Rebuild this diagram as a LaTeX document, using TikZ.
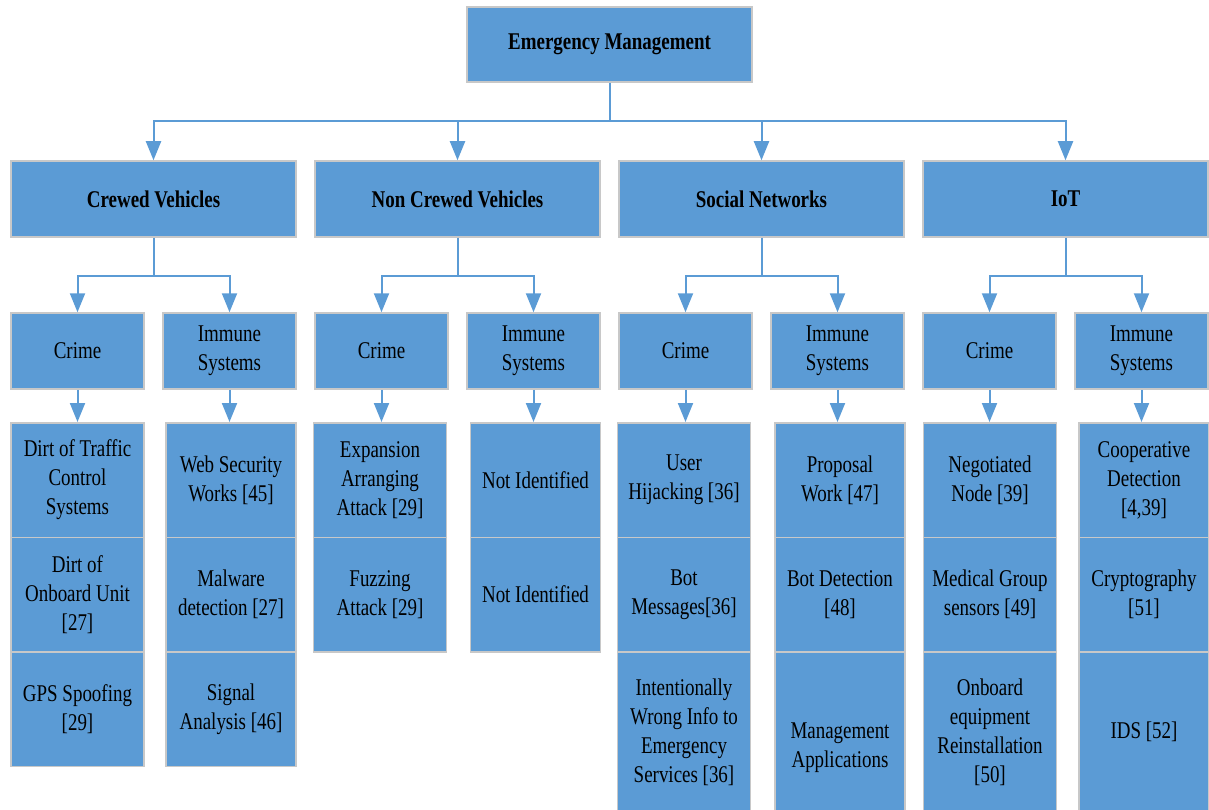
\documentclass[tikz,border=0pt]{standalone}
\usepackage{fontspec}
\setmainfont{Liberation Serif}[FakeStretch=0.79]
\usetikzlibrary{arrows.meta}
\definecolor{boxblue}{HTML}{5B9BD5}
\definecolor{lineblue}{HTML}{5B9BD5}
\definecolor{boxborder}{HTML}{C8C8C8}
\tikzset{
  box/.style={draw=boxborder, line width=1.5pt, fill=boxblue, align=center, inner sep=1pt, text=black},
  topbox/.style={box, minimum width=285pt, minimum height=75pt, font=\fontsize{24}{29}\selectfont\bfseries},
  catbox/.style={box, minimum width=285pt, minimum height=76pt, font=\fontsize{24}{29}\selectfont\bfseries},
  subbox/.style={box, minimum width=133pt, minimum height=76pt},
  crimebox/.style={box, minimum width=133pt, minimum height=114.5pt},
  immbox/.style={box, minimum width=130pt, minimum height=114.5pt},
  tallcrime/.style={box, minimum width=133pt, minimum height=160pt},
  tallimm/.style={box, minimum width=130pt, minimum height=160pt},
  conn/.style={draw=lineblue, line width=2pt},
  arr/.style={conn, -{Triangle[width=15pt,length=19pt]}},
  every node/.style={font=\fontsize{24}{29}\selectfont}
}
\begin{document}
\begin{tikzpicture}[x=1pt,y=-1pt]
\useasboundingbox (0,0) rectangle (1209,810);

% root
\node[topbox] (root) at (609.5,44.5) {Emergency Management};

% level 1
\node[catbox] (cv)  at (153.5,199)  {Crewed Vehicles};
\node[catbox] (ncv) at (457.5,199)  {Non Crewed Vehicles};
\node[catbox] (sn)  at (761.5,199)  {Social Networks};
\node[catbox] (iot) at (1065.5,199) {IoT};

% level 2
\node[subbox] (cvC)  at (77.5,351)   {Crime};
\node[subbox] (cvI)  at (229.5,351)  {Immune\\Systems};
\node[subbox] (ncvC) at (381.5,351)  {Crime};
\node[subbox] (ncvI) at (533.5,351)  {Immune\\Systems};
\node[subbox] (snC)  at (685.5,351)  {Crime};
\node[subbox] (snI)  at (837.5,351)  {Immune\\Systems};
\node[subbox] (iotC) at (989.5,351)  {Crime};
\node[subbox] (iotI) at (1141.5,351) {Immune\\Systems};

% level 3 - Crewed Vehicles
\node[crimebox] (cvC1) at (77.5,480)   {Dirt of Traffic\\Control\\Systems};
\node[crimebox] (cvC2) at (77.5,594.5) {Dirt of\\Onboard Unit\\{}[27]};
\node[crimebox] (cvC3) at (77.5,709)   {GPS Spoofing\\{}[29]};
\node[immbox] (cvI1) at (231,480)   {Web Security\\Works [45]};
\node[immbox] (cvI2) at (231,594.5) {Malware\\detection [27]};
\node[immbox] (cvI3) at (231,709)   {Signal\\Analysis [46]};

% level 3 - Non Crewed Vehicles
\node[crimebox] (ncvC1) at (380,480)   {Expansion\\Arranging\\Attack [29]};
\node[crimebox] (ncvC2) at (380,594.5) {Fuzzing\\Attack [29]};
\node[immbox] (ncvI1) at (535.5,480)   {Not Identified};
\node[immbox] (ncvI2) at (535.5,594.5) {Not Identified};

% level 3 - Social Networks
\node[crimebox] (snC1) at (684,480)   {User\\Hijacking [36]};
\node[crimebox] (snC2) at (684,594.5) {Bot\\Messages[36]};
\node[tallcrime] (snC3) at (684,732)  {Intentionally\\Wrong Info to\\Emergency\\Services [36]};
\node[immbox] (snI1) at (840,480)   {Proposal\\Work [47]};
\node[immbox] (snI2) at (840,594.5) {Bot Detection\\{}[48]};
\node[tallimm] (snI3) at (840,732)  {};
\node[align=center] (snI3t) at (840,748) {Management\\Applications};

% level 3 - IoT
\node[crimebox] (iotC1) at (990,480)   {Negotiated\\Node [39]};
\node[crimebox] (iotC2) at (990,594.5) {Medical Group\\sensors [49]};
\node[tallcrime] (iotC3) at (990,732)  {Onboard\\equipment\\Reinstallation\\{}[50]};
\node[immbox] (iotI1) at (1144,480)   {Cooperative\\Detection\\{}[4,39]};
\node[immbox] (iotI2) at (1144,594.5) {Cryptography\\{}[51]};
\node[tallimm] (iotI3) at (1144,732)  {IDS [52]};

% connectors root -> level 1
\draw[conn] (root.south) -- ++(0,38) coordinate (bus);
\foreach \n in {cv,ncv,sn,iot}{
  \draw[arr] (bus) -| (\n.north);
}

% level 1 -> level 2
\foreach \n in {cv,ncv,sn,iot}{
  \draw[conn] (\n.south) -- ++(0,38) coordinate (\n bus);
  \draw[arr] (\n bus) -| (\n C.north);
  \draw[arr] (\n bus) -| (\n I.north);
}

% level 2 -> level 3
\foreach \n in {cvC,cvI,ncvC,ncvI,snC,snI,iotC,iotI}{
  \draw[arr] (\n.south) -- (\n.south |- \n1.north);
}
\end{tikzpicture}
\end{document}
